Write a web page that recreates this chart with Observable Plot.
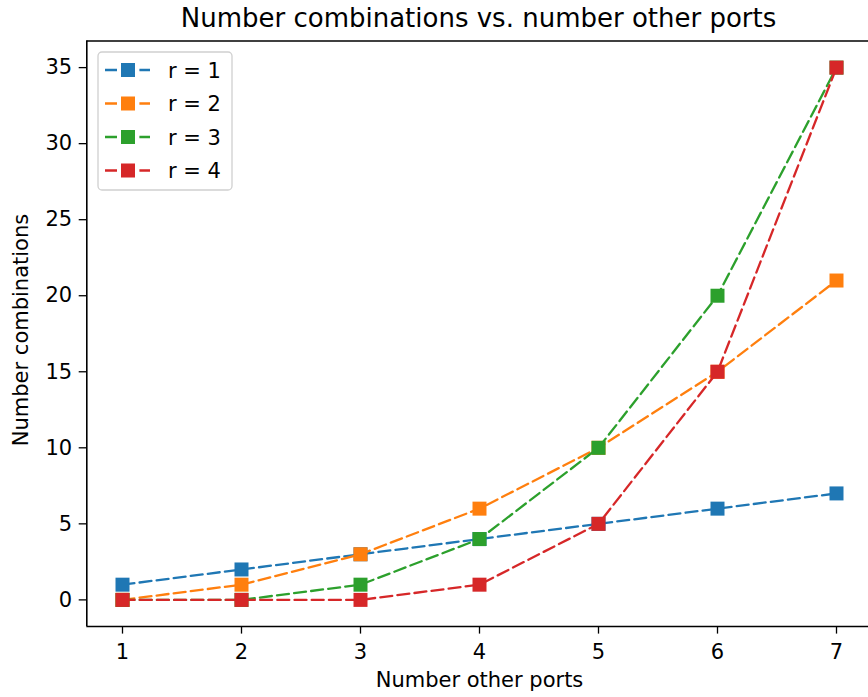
<!DOCTYPE html>
<html>
<head>
<meta charset="utf-8">
<script src="https://cdn.jsdelivr.net/npm/d3@7"></script>
<script src="https://cdn.jsdelivr.net/npm/@observablehq/plot@0.6"></script>
<style>
  html, body { margin: 0; padding: 0; background: #fff; }
  #wrap { position: relative; width: 868px; height: 697px; overflow: hidden; font-family: "DejaVu Sans", sans-serif; }
  #wrap svg { position: absolute; left: 0; top: 0; }
</style>
</head>
<body>
<div id="wrap"></div>
<script>
// ---- data ----
const ports = [1, 2, 3, 4, 5, 6, 7];
const seriesNames = ["r = 1", "r = 2", "r = 3", "r = 4"];
const r1 = [1, 2, 3, 4, 5, 6, 7];
const r2 = [0, 1, 3, 6, 10, 15, 21];
const r3 = [0, 0, 1, 4, 10, 20, 35];
const r4 = [0, 0, 0, 1, 5, 15, 35];
const colors = ["#1f77b4", "#ff7f0e", "#2ca02c", "#d62728"];
const xTicks = [1, 2, 3, 4, 5, 6, 7];
const yTicks = [0, 5, 10, 15, 20, 25, 30, 35];
const titleText = "Number combinations vs. number other ports";
const xLabel = "Number other ports";
const yLabel = "Number combinations";

(function () {
const allSeries = [r1, r2, r3, r4];
const W = 868, H = 697;
const pLeft = 86.3, pRight = 871.7, pTop = 40.5, pBottom = 626;
const xDom = [0.7, 7.3], yDom = [-1.75, 36.75];

const marks = [];
allSeries.forEach((vals, i) => {
  const rows = ports.map((p, j) => ({x: p, y: vals[j]}));
  marks.push(Plot.line(rows, {x: "x", y: "y", stroke: colors[i], strokeWidth: 2.3, strokeDasharray: "12,5.2"}));
  marks.push(Plot.dot(rows, {x: "x", y: "y", symbol: "square", r: 7.9, fill: colors[i], stroke: "none"}));
});

const svg = Plot.plot({
  width: W, height: H,
  marginLeft: pLeft, marginRight: W - pRight, marginTop: pTop, marginBottom: H - pBottom,
  x: {domain: xDom, range: [pLeft, pRight]},
  y: {domain: yDom, range: [pBottom, pTop]},
  style: {fontFamily: "DejaVu Sans", fontSize: "21px", color: "#000", background: "transparent"},
  marks: [
    Plot.axisX({ticks: xTicks, tickSize: 7.6, tickPadding: 10, tickFormat: d => String(d), label: null, stroke: "#000", strokeWidth: 1.3}),
    Plot.axisY({ticks: yTicks, tickSize: 7.6, tickPadding: 7, tickFormat: d => String(d), label: null, stroke: "#000", strokeWidth: 1.3}),
    ...marks,
    Plot.ruleX([xDom[0], xDom[1]], {y1: yDom[0], y2: yDom[1], stroke: "#000", strokeWidth: 1.6}),
    Plot.ruleY([yDom[0], yDom[1]], {x1: xDom[0], x2: xDom[1], stroke: "#000", strokeWidth: 1.6})
  ]
});

const wrap = document.getElementById("wrap");
wrap.appendChild(svg);

// Legend (drawn into the SVG)
const g = d3.select(svg).append("g");
const lx = 98, ly = 52, lw = 134, lh = 138;
g.append("rect").attr("x", lx).attr("y", ly).attr("width", lw).attr("height", lh)
  .attr("rx", 4).attr("fill", "#fff").attr("fill-opacity", 0.8).attr("stroke", "#d0d0d0").attr("stroke-width", 1.3);
seriesNames.forEach((name, i) => {
  const cy = 70 + i * 33.5;
  g.append("line").attr("x1", 105).attr("x2", 150).attr("y1", cy).attr("y2", cy)
    .attr("stroke", colors[i]).attr("stroke-width", 2.3).attr("stroke-dasharray", "12,5.2");
  g.append("rect").attr("x", 128 - 7).attr("y", cy - 7).attr("width", 14).attr("height", 14).attr("fill", colors[i]);
  g.append("text").attr("x", 168).attr("y", cy).attr("dy", "0.36em").attr("text-anchor", "start")
    .attr("font-family", "DejaVu Sans").attr("font-size", 21).attr("fill", "#000").text(name);
});

// Title and axis labels
const t = d3.select(svg).append("g").attr("font-family", "DejaVu Sans").attr("fill", "#000");
t.append("text").attr("x", 478.5).attr("y", 27).attr("text-anchor", "middle").attr("font-size", 26).text(titleText);
t.append("text").attr("x", 479.5).attr("y", 687).attr("text-anchor", "middle").attr("font-size", 21).text(xLabel);
t.append("text").attr("transform", "translate(28,330) rotate(-90)").attr("text-anchor", "middle").attr("font-size", 21).text(yLabel);
})();
</script>
</body>
</html>
